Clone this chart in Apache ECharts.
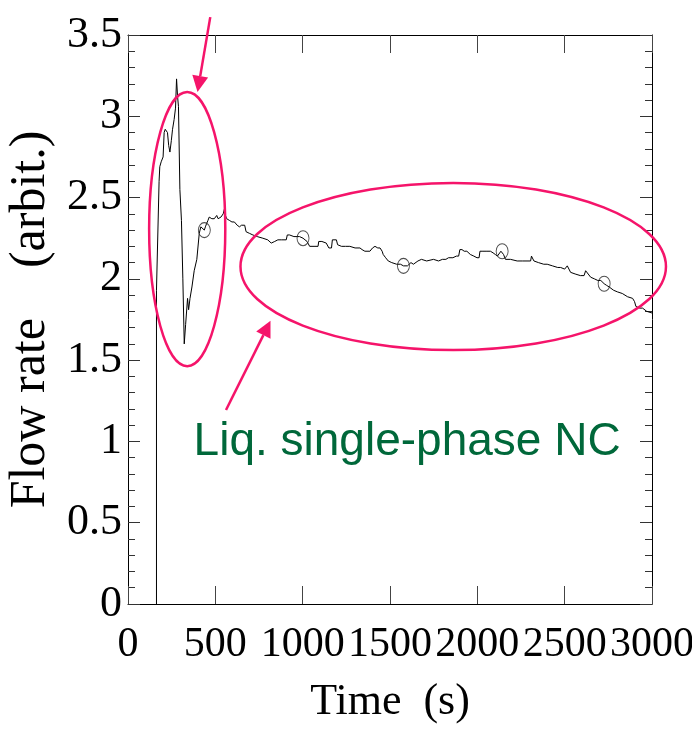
<!DOCTYPE html>
<html>
<head>
<meta charset="utf-8">
<script src="https://cdn.jsdelivr.net/npm/echarts@6/dist/echarts.min.js"></script>
<style>
  html, body { margin: 0; padding: 0; background: #fff; }
  #main { width: 692px; height: 730px; }
</style>
</head>
<body>
<div id="main"></div>
<script>
// tick labels come from the axes, these are the ranges
var timeTicks = [0, 500, 1000, 1500, 2000, 2500, 3000];
var flowTicks = [0, 0.5, 1, 1.5, 2, 2.5, 3, 3.5];

// flow rate trace, [time (s), flow rate]
var flowTrace = [
  [163, 0], [163, 1.93], [178, 2.60], [182, 2.69], [190, 2.72], [201, 2.75], [207, 2.90],
  [213, 2.92], [220, 2.93], [226, 2.90], [233, 2.82], [240, 2.78], [248, 2.85], [255, 2.92],
  [264, 2.98], [272, 3.05], [278, 3.23], [284, 3.12], [289, 3.06], [297, 2.55], [306, 2.36],
  [314, 2.00], [322, 1.60], [330, 1.72], [341, 1.88], [347, 1.81], [355, 1.88], [366, 1.95],
  [379, 2.05], [394, 2.12], [408, 2.28], [417, 2.32], [427, 2.33], [437, 2.30], [443, 2.32],
  [450, 2.34], [458, 2.36], [465, 2.38], [480, 2.37], [494, 2.37], [500, 2.38], [508, 2.39],
  [516, 2.37], [532, 2.38], [545, 2.40], [552, 2.43], [558, 2.39], [565, 2.37], [580, 2.36],
  [595, 2.35], [609, 2.35], [625, 2.33], [638, 2.32], [650, 2.33], [661, 2.34], [668, 2.33],
  [676, 2.29], [695, 2.28], [715, 2.27], [740, 2.26], [772, 2.25], [800, 2.24], [820, 2.22],
  [840, 2.23], [858, 2.24], [880, 2.24], [906, 2.24], [912, 2.27], [925, 2.27], [950, 2.26],
  [982, 2.26], [1002, 2.25], [1011, 2.25], [1025, 2.23], [1040, 2.20], [1065, 2.20], [1088, 2.20],
  [1092, 2.23], [1110, 2.23], [1135, 2.22], [1145, 2.22], [1150, 2.19], [1165, 2.19], [1170, 2.24],
  [1193, 2.24], [1200, 2.21], [1222, 2.20], [1245, 2.20], [1270, 2.20], [1300, 2.19], [1328, 2.19],
  [1340, 2.18], [1356, 2.17], [1385, 2.17], [1400, 2.19], [1414, 2.20], [1430, 2.19], [1443, 2.19],
  [1455, 2.17], [1461, 2.15], [1475, 2.13], [1490, 2.11], [1510, 2.10], [1538, 2.09], [1560, 2.09],
  [1577, 2.08], [1600, 2.08], [1620, 2.10], [1634, 2.09], [1660, 2.11], [1680, 2.12], [1691, 2.12],
  [1710, 2.11], [1720, 2.11], [1749, 2.12], [1760, 2.11], [1778, 2.11], [1800, 2.12], [1820, 2.12],
  [1835, 2.13], [1860, 2.13], [1880, 2.14], [1893, 2.14], [1900, 2.18], [1912, 2.18], [1925, 2.17],
  [1940, 2.17], [1960, 2.15], [1980, 2.14], [1998, 2.13], [2010, 2.13], [2015, 2.17], [2027, 2.17],
  [2050, 2.17], [2075, 2.17], [2090, 2.16], [2103, 2.15], [2115, 2.14], [2125, 2.15], [2135, 2.17],
  [2142, 2.17], [2150, 2.15], [2161, 2.12], [2190, 2.12], [2228, 2.11], [2260, 2.11], [2305, 2.11],
  [2310, 2.14], [2314, 2.14], [2324, 2.11], [2350, 2.10], [2380, 2.09], [2400, 2.09], [2430, 2.08],
  [2460, 2.07], [2477, 2.07], [2500, 2.06], [2506, 2.06], [2515, 2.08], [2525, 2.08], [2534, 2.04],
  [2560, 2.03], [2590, 2.02], [2611, 2.02], [2620, 2.05], [2630, 2.05], [2649, 2.01], [2670, 2.00],
  [2690, 1.99], [2707, 1.99], [2726, 1.97], [2740, 1.96], [2755, 1.95], [2780, 1.93], [2802, 1.92],
  [2830, 1.91], [2860, 1.89], [2889, 1.88], [2900, 1.86], [2908, 1.83], [2930, 1.82], [2946, 1.82],
  [2970, 1.80], [3000, 1.79]
];

// small open circles drawn on the trace
var circledPoints = [[437, 2.30], [1002, 2.25], [1577, 2.08], [2142, 2.17], [2726, 1.97]];

var annotationText = 'Liq. single-phase NC';

var serif = 'Liberation Serif, Times New Roman, serif';
var pink = '#f5146a';

var dom = document.getElementById('main');
var myChart = echarts.init(dom, null, { renderer: 'canvas' });

var option = {
  animation: false,
  backgroundColor: '#fff',
  grid: {
    left: 128,
    right: 40,
    top: 35,
    bottom: 126,
    outerBoundsMode: 'none'
  },
  xAxis: [
    {
      type: 'value',
      min: timeTicks[0],
      max: timeTicks[timeTicks.length - 1],
      interval: 500,
      position: 'bottom',
      name: 'Time  (s)',
      nameLocation: 'middle',
      nameGap: 76,
      nameTextStyle: { fontFamily: serif, fontSize: 44, color: '#000' },
      axisLine: { onZero: false, lineStyle: { color: '#000', width: 1 } },
      axisTick: { inside: true, length: 18, lineStyle: { color: '#444' } },
      axisLabel: {
        fontFamily: serif, fontSize: 42, color: '#000', margin: 20,
        showMinLabel: true, showMaxLabel: true, hideOverlap: false,
        formatter: function (v) { return String(v); }
      },
      splitLine: { show: false }
    },
    {
      type: 'value',
      min: timeTicks[0],
      max: timeTicks[timeTicks.length - 1],
      interval: 500,
      position: 'top',
      axisLine: { onZero: false, lineStyle: { color: '#000', width: 1 } },
      axisTick: { inside: true, length: 18, lineStyle: { color: '#444' } },
      axisLabel: { show: false },
      splitLine: { show: false }
    }
  ],
  yAxis: [
    {
      type: 'value',
      min: flowTicks[0],
      max: flowTicks[flowTicks.length - 1],
      interval: 0.5,
      position: 'left',
      name: 'Flow rate    (arbit.)',
      nameLocation: 'middle',
      nameGap: 70,
      nameRotate: 90,
      nameTextStyle: { fontFamily: serif, fontSize: 50, color: '#000' },
      axisLine: { onZero: false, lineStyle: { color: '#000', width: 1 } },
      axisTick: { inside: true, length: 12, lineStyle: { color: '#333' } },
      minorTick: { show: true, splitNumber: 5, length: 7, lineStyle: { color: '#333' } },
      axisLabel: { fontFamily: serif, fontSize: 44, color: '#000', margin: 6 },
      splitLine: { show: false },
      minorSplitLine: { show: false }
    },
    {
      type: 'value',
      min: flowTicks[0],
      max: flowTicks[flowTicks.length - 1],
      interval: 0.5,
      position: 'right',
      axisLine: { onZero: false, lineStyle: { color: '#000', width: 1 } },
      axisTick: { inside: true, length: 12, lineStyle: { color: '#333' } },
      minorTick: { show: true, splitNumber: 5, length: 7, lineStyle: { color: '#333' } },
      axisLabel: { show: false },
      splitLine: { show: false },
      minorSplitLine: { show: false }
    }
  ],
  series: [
    {
      name: 'Flow rate',
      type: 'line',
      data: flowTrace,
      showSymbol: false,
      symbol: 'none',
      lineStyle: { color: '#000', width: 1 },
      z: 3
    },
    {
      name: 'markers',
      type: 'scatter',
      data: circledPoints,
      symbol: 'circle',
      symbolSize: [12, 15],
      itemStyle: { color: 'rgba(0,0,0,0)', borderColor: '#222', borderWidth: 1 },
      z: 4
    }
  ]
};

myChart.setOption(option, true);

// annotations are placed in data units so they follow the axes
function px(t, v) {
  return myChart.convertToPixel({ gridIndex: 0 }, [t, v]);
}

function arrow(from, to) {
  var a = px(from[0], from[1]);
  var b = px(to[0], to[1]);
  var dx = b[0] - a[0], dy = b[1] - a[1];
  var len = Math.sqrt(dx * dx + dy * dy);
  var ux = dx / len, uy = dy / len;
  var headLen = 16, headHalf = 8;
  var base = [b[0] - ux * headLen, b[1] - uy * headLen];
  return [
    {
      type: 'polyline',
      shape: { points: [a, base] },
      style: { stroke: pink, lineWidth: 2.5, fill: null },
      z: 10
    },
    {
      type: 'polygon',
      shape: {
        points: [
          b,
          [base[0] - uy * headHalf, base[1] + ux * headHalf],
          [base[0] + uy * headHalf, base[1] - ux * headHalf]
        ]
      },
      style: { fill: pink },
      z: 10
    }
  ];
}

function ellipse(t, v, rt, rv) {
  var c = px(t, v);
  var e = px(t + rt, v - rv);
  return {
    type: 'ellipse',
    shape: { cx: c[0], cy: c[1], rx: e[0] - c[0], ry: e[1] - c[1] },
    style: { stroke: pink, lineWidth: 2.5, fill: null },
    z: 10
  };
}

var textPos = px(1598, 0.855);
var graphics = [
  ellipse(339, 2.306, 218, 0.843),
  ellipse(1862, 2.076, 1218, 0.514)
].concat(arrow([471, 3.61], [398, 3.15]))
 .concat(arrow([561, 1.193], [816, 1.742]))
 .concat([{
   type: 'text',
   x: textPos[0],
   y: textPos[1],
   style: {
     text: annotationText,
     fill: '#00683a',
     font: '46px "Liberation Sans", Arial, sans-serif',
     textAlign: 'center',
     textVerticalAlign: 'bottom'
   },
   z: 10
 }]);

myChart.setOption({ graphic: graphics });
</script>
</body>
</html>
